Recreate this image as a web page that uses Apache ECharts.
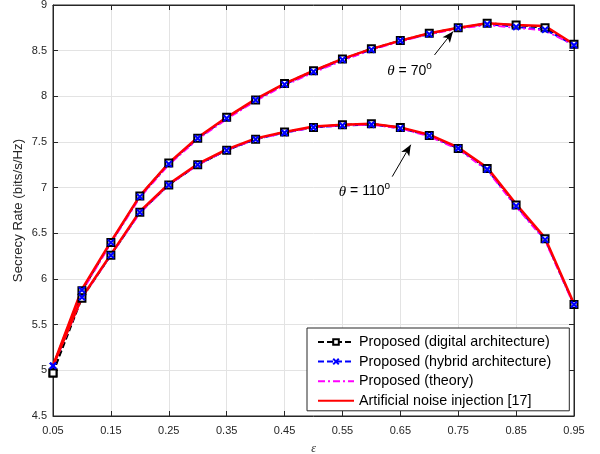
<!DOCTYPE html>
<html>
<head>
<meta charset="utf-8">
<script src="https://cdn.jsdelivr.net/npm/echarts@6/dist/echarts.min.js"></script>
<style>
html, body { margin: 0; padding: 0; background: #fff; }
#main { width: 600px; height: 454px; }
</style>
</head>
<body>
<div id="main"></div>
<script>
// epsilon values (x) and tick labels
const eps = [0.05, 0.1, 0.15, 0.2, 0.25, 0.3, 0.35, 0.4, 0.45, 0.5, 0.55, 0.6, 0.65, 0.7, 0.75, 0.8, 0.85, 0.9, 0.95]
const xTicks = [0.05, 0.15, 0.25, 0.35, 0.45, 0.55, 0.65, 0.75, 0.85, 0.95]

// theta = 70 deg
const digital70 = [4.97, 5.87, 6.40, 6.91, 7.27, 7.54, 7.77, 7.96, 8.14, 8.28, 8.41, 8.52, 8.61, 8.69, 8.75, 8.80, 8.78, 8.75, 8.57]
const hybrid70 = [5.05, 5.88, 6.40, 6.90, 7.26, 7.54, 7.76, 7.96, 8.13, 8.27, 8.40, 8.51, 8.61, 8.68, 8.75, 8.79, 8.76, 8.73, 8.56]
const theory70 = [5.03, 5.86, 6.39, 6.89, 7.25, 7.53, 7.75, 7.95, 8.12, 8.26, 8.39, 8.51, 8.60, 8.68, 8.74, 8.78, 8.75, 8.72, 8.56]
const noise70 = [5.05, 5.89, 6.41, 6.91, 7.27, 7.55, 7.77, 7.97, 8.14, 8.28, 8.41, 8.52, 8.61, 8.69, 8.75, 8.80, 8.78, 8.77, 8.57]

// theta = 110 deg
const digital110 = [4.97, 5.79, 6.26, 6.73, 7.03, 7.25, 7.41, 7.53, 7.61, 7.66, 7.69, 7.70, 7.66, 7.57, 7.43, 7.21, 6.81, 6.44, 5.72]
const hybrid110 = [5.05, 5.80, 6.26, 6.73, 7.03, 7.25, 7.41, 7.53, 7.60, 7.66, 7.68, 7.69, 7.65, 7.57, 7.43, 7.20, 6.80, 6.43, 5.72]
const theory110 = [5.04, 5.79, 6.26, 6.72, 7.03, 7.25, 7.41, 7.53, 7.60, 7.66, 7.68, 7.69, 7.65, 7.56, 7.42, 7.19, 6.79, 6.42, 5.71]
const noise110 = [5.05, 5.80, 6.27, 6.74, 7.04, 7.26, 7.42, 7.54, 7.61, 7.67, 7.69, 7.70, 7.66, 7.58, 7.44, 7.22, 6.82, 6.45, 5.73]

const names = [
  'Proposed (digital architecture)',
  'Proposed (hybrid architecture)',
  'Proposed (theory)',
  'Artificial noise injection [17]'
]

const font = "'Liberation Sans', Arial, sans-serif"
const crossPath = 'path://M0,0L10,10M10,0L0,10'

const pairs = (ys) => eps.map((x, i) => [x, ys[i]])

function makeSeries (kind, ys) {
  const base = {
    name: names[kind],
    type: 'line',
    data: pairs(ys),
    animation: false,
    silent: true
  }
  if (kind === 0) {
    return Object.assign(base, {
      symbol: 'rect',
      symbolSize: 7,
      lineStyle: { color: '#000', width: 1.8, type: [6, 3] },
      itemStyle: { color: '#fff', borderColor: '#000', borderWidth: 2 }
    })
  }
  if (kind === 1) {
    return Object.assign(base, {
      symbol: crossPath,
      symbolSize: 6,
      lineStyle: { color: '#0000ff', width: 1.8, type: [6, 3] },
      itemStyle: { color: '#0000ff', borderColor: '#0000ff', borderWidth: 2.2 }
    })
  }
  if (kind === 2) {
    return Object.assign(base, {
      symbol: 'none',
      lineStyle: { color: '#ff00ff', width: 1.8, type: [7, 3, 2, 3] },
      itemStyle: { color: '#ff00ff' }
    })
  }
  return Object.assign(base, {
    symbol: 'none',
    lineStyle: { color: '#ff0000', width: 2.5 },
    itemStyle: { color: '#ff0000' }
  })
}

const chart = echarts.init(document.getElementById('main'))

const tickStyle = { show: true, inside: true, length: 5, lineStyle: { color: '#262626' } }

const option = {
  backgroundColor: '#fff',
  grid: {
    left: 53, right: 26, top: 5, bottom: 38,
    outerBoundsMode: 'none',
    show: true, borderColor: '#262626', borderWidth: 1
  },
  legend: {
    data: [
      { name: names[0] },
      { name: names[1] },
      { name: names[2], itemStyle: { opacity: 0 } },
      { name: names[3], itemStyle: { opacity: 0 } }
    ],
    orient: 'vertical',
    left: 307,
    top: 328,
    backgroundColor: '#fff',
    borderColor: '#262626',
    borderWidth: 1,
    borderRadius: 0,
    padding: [7, 18, 3, 10],
    itemWidth: 36,
    itemHeight: 7,
    itemGap: 5.6,
    textStyle: { fontFamily: font, fontSize: 14.3, color: '#000' }
  },
  xAxis: [
    {
      type: 'value',
      min: 0.05,
      max: 0.95,
      name: 'ε',
      nameLocation: 'middle',
      nameGap: 27,
      nameTextStyle: { fontFamily: "'Liberation Serif', serif", fontStyle: 'italic', fontSize: 12, color: '#262626' },
      axisLine: { lineStyle: { color: '#262626' } },
      axisTick: Object.assign({ customValues: xTicks }, tickStyle),
      axisLabel: { customValues: xTicks, formatter: v => v.toFixed(2), fontFamily: font, fontSize: 11, color: '#262626', margin: 9 },
      splitLine: { show: true, lineStyle: { color: '#e3e3e3' } }
    },
    {
      type: 'value',
      position: 'top',
      min: 0.05,
      max: 0.95,
      axisLine: { show: true, lineStyle: { color: '#262626' } },
      axisTick: Object.assign({ customValues: xTicks }, tickStyle),
      axisLabel: { show: false },
      splitLine: { show: false }
    }
  ],
  yAxis: [
    {
      type: 'value',
      min: 4.5,
      max: 9,
      interval: 0.5,
      name: 'Secrecy Rate (bits/s/Hz)',
      nameLocation: 'middle',
      nameGap: 28,
      nameMoveOverlap: false,
      nameTextStyle: { fontFamily: font, fontSize: 13.3, color: '#262626' },
      axisLine: { show: true, lineStyle: { color: '#262626' } },
      axisTick: tickStyle,
      axisLabel: { fontFamily: font, fontSize: 11, color: '#262626', margin: 6 },
      splitLine: { show: true, lineStyle: { color: '#e3e3e3' } }
    },
    {
      type: 'value',
      position: 'right',
      min: 4.5,
      max: 9,
      interval: 0.5,
      axisLine: { show: true, lineStyle: { color: '#262626' } },
      axisTick: tickStyle,
      axisLabel: { show: false },
      splitLine: { show: false }
    }
  ],
  series: [
    makeSeries(0, digital70),
    makeSeries(0, digital110),
    makeSeries(1, hybrid70),
    makeSeries(1, hybrid110),
    makeSeries(2, theory70),
    makeSeries(2, theory110),
    makeSeries(3, noise70),
    makeSeries(3, noise110),
    {
      name: 'arrows',
      type: 'line',
      data: [],
      silent: true,
      animation: false,
      markLine: {
        silent: true,
        animation: false,
        symbol: ['none', 'arrow'],
        symbolSize: [7, 11],
        label: { show: false },
        lineStyle: { color: '#000', width: 1, type: 'solid' },
        data: [
          [{ coord: [0.709, 8.453] }, { coord: [0.741, 8.71] }],
          [{ coord: [0.636, 7.121] }, { coord: [0.668, 7.47] }]
        ]
      }
    }
  ]
}

chart.setOption(option)

// angle labels placed in data space
function label (x, y, deg) {
  const p = chart.convertToPixel({ gridIndex: 0 }, [x, y])
  return {
    type: 'text',
    x: p[0],
    y: p[1],
    silent: true,
    style: {
      text: '{i|θ} = ' + deg + '{s|o}',
      align: 'center',
      verticalAlign: 'middle',
      fill: '#000',
      font: '14px ' + font,
      rich: {
        i: { fontFamily: "'Liberation Serif', serif", fontStyle: 'italic', fontSize: 15, fill: '#000' },
        s: { fontSize: 10, fill: '#000', padding: [0, 0, 10, 0] }
      }
    }
  }
}

chart.setOption({
  graphic: [
    label(0.666, 8.28, 70),
    label(0.588, 6.957, 110)
  ]
})
</script>
</body>
</html>
